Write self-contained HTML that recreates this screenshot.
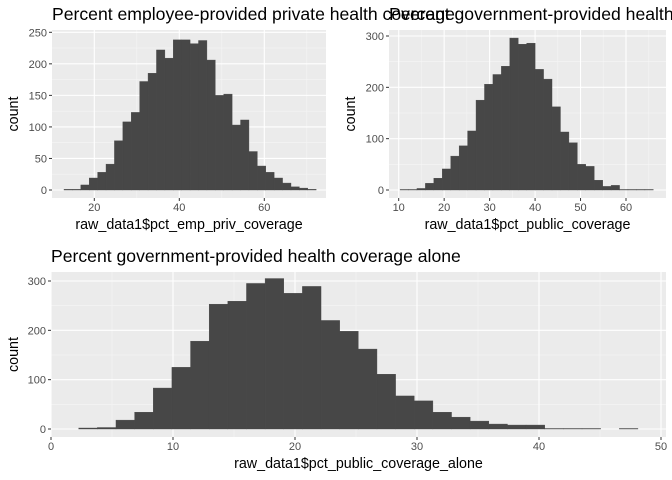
<!DOCTYPE html>
<html><head><meta charset="utf-8"><style>
html,body{margin:0;padding:0;background:#fff;}
svg{display:block;font-family:"Liberation Sans",sans-serif;}
</style></head><body>
<svg id="chart" width="672" height="480" viewBox="0 0 672 480" xmlns="http://www.w3.org/2000/svg"></svg>
<script>
// Panel 1 data
const empCounts=[1,1,8,19,28,41,78,108,123,172,185,222,209,238,238,232,237,206,150,152,103,111,61,38,28,19,11,5,3,1];
const empBinStart=12.87, empBinWidth=1.978;
const empXTicks=[20,40,60], empYTicks=[0,50,100,150,200,250];
// Panel 2 data
const pubCounts=[1,1,3,13,23,41,66,86,115,175,206,225,241,296,284,286,235,216,162,113,92,50,46,19,7,9,1,1,1,1];
const pubBinStart=10.3, pubBinWidth=1.857;
const pubXTicks=[10,20,30,40,50,60], pubYTicks=[0,100,200,300];
// Panel 3 data
const aloneCounts=[2,3,18,34,83,125,178,253,259,295,305,275,289,220,198,162,111,67,57,34,24,16,10,8,8,1,1,1,0,1];
const aloneBinStart=2.27, aloneBinWidth=1.528;
const aloneXTicks=[0,10,20,30,40,50], aloneYTicks=[0,100,200,300];

const NS="http://www.w3.org/2000/svg";
const svg=document.getElementById('chart');
function mk(tag,attrs,parent){const e=document.createElementNS(NS,tag);for(const k in attrs)e.setAttribute(k,attrs[k]);(parent||svg).appendChild(e);return e;}

function panel(cfg){
  const g=mk('g',{});
  
  
  const xs=v=>cfg.x0px+(v-cfg.x0v)*(cfg.x1px-cfg.x0px)/(cfg.x1v-cfg.x0v);
  const ys=v=>cfg.y0px+(v-cfg.y0v)*(cfg.y1px-cfg.y0px)/(cfg.y1v-cfg.y0v);
  const bg=mk('rect',{x:cfg.L,y:cfg.T,width:cfg.R-cfg.L,height:cfg.B-cfg.T,fill:'#ebebeb'},g);
  
  
  const xt=cfg.xTicks, yt=cfg.yTicks;
  const dx=xt[1]-xt[0], dy=yt[1]-yt[0];
  for(let v=xt[0]-dx/2;v<=xt[xt.length-1]+dx;v+=dx){const p=xs(v);if(p>cfg.L&&p<cfg.R)mk('line',{x1:p,x2:p,y1:cfg.T,y2:cfg.B,stroke:'#f5f5f5','stroke-width':0.6},g);}
  for(let v=yt[0]-dy/2;v<=yt[yt.length-1]+dy;v+=dy){const p=ys(v);if(p>cfg.T&&p<cfg.B)mk('line',{x1:cfg.L,x2:cfg.R,y1:p,y2:p,stroke:'#f5f5f5','stroke-width':0.6},g);}
  xt.forEach(v=>{const p=xs(v);mk('line',{x1:p,x2:p,y1:cfg.T,y2:cfg.B,stroke:'#fff','stroke-width':1.1},g);
    mk('line',{x1:p,x2:p,y1:cfg.B,y2:cfg.B+3,stroke:'#333','stroke-width':1},g);
    const t=mk('text',{x:p,y:cfg.B+13,'font-size':11,fill:'#4d4d4d','text-anchor':'middle'},g);t.textContent=v;
    });
  yt.forEach(v=>{const p=ys(v);mk('line',{x1:cfg.L,x2:cfg.R,y1:p,y2:p,stroke:'#fff','stroke-width':1.1},g);
    mk('line',{x1:cfg.L-3,x2:cfg.L,y1:p,y2:p,stroke:'#333','stroke-width':1},g);
    const t=mk('text',{x:cfg.L-5,y:p+4,'font-size':11,fill:'#4d4d4d','text-anchor':'end'},g);t.textContent=v;
    });
  cfg.counts.forEach((c,i)=>{
    const a=cfg.start+i*cfg.width, b=a+cfg.width;
    const r=mk('rect',{x:xs(a),y:ys(c),width:xs(b)-xs(a),height:Math.max(0,ys(0)-ys(c)),fill:'#474747',stroke:'#474747','stroke-width':0.4},g);
    
    
  });
  const xt2=mk('text',{x:(cfg.L+cfg.R)/2,y:cfg.B+31,'font-size':14.3,fill:'#000','text-anchor':'middle'},g);
  xt2.textContent=cfg.xlab;
  const cy=(cfg.T+cfg.B)/2, cx=cfg.ylabX;
  const yl=mk('text',{x:cx,y:cy,'font-size':14.3,fill:'#000','text-anchor':'middle',transform:`rotate(-90 ${cx} ${cy})`},g);
  yl.textContent='count';
  const ti=mk('text',{x:cfg.L,y:cfg.T-10,'font-size':17.6,fill:'#000'},g);
  ti.textContent=cfg.title;
}

panel({name:'emp-priv-coverage-panel',L:52,R:326,T:30,B:198,x0v:20,x0px:94.3,x1v:60,x1px:264.3,y0v:0,y0px:190,y1v:250,y1px:32.3,
  xTicks:empXTicks,yTicks:empYTicks,counts:empCounts,start:empBinStart,width:empBinWidth,
  xlab:'raw_data1$pct_emp_priv_coverage',ylabX:18,title:'Percent employee-provided private health coverage'});
panel({name:'public-coverage-panel',L:389,R:666,T:30,B:198,x0v:10,x0px:398.7,x1v:60,x1px:626,y0v:0,y0px:190,y1v:300,y1px:36,
  xTicks:pubXTicks,yTicks:pubYTicks,counts:pubCounts,start:pubBinStart,width:pubBinWidth,
  xlab:'raw_data1$pct_public_coverage',ylabX:355,title:'Percent government-provided health coverage'});
panel({name:'public-coverage-alone-panel',L:51,R:666,T:272,B:437,x0v:0,x0px:51,x1v:50,x1px:661,y0v:0,y0px:429,y1v:300,y1px:281,
  xTicks:aloneXTicks,yTicks:aloneYTicks,counts:aloneCounts,start:aloneBinStart,width:aloneBinWidth,
  xlab:'raw_data1$pct_public_coverage_alone',ylabX:18,title:'Percent government-provided health coverage alone'});
</script>
</body></html>
